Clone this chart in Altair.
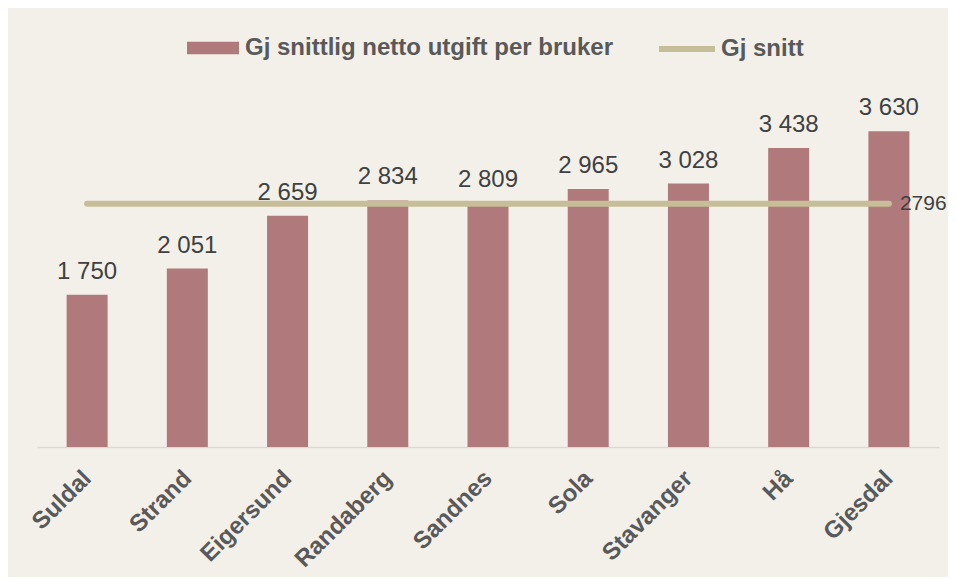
import altair as alt
import pandas as pd

kommuner = ["Suldal", "Strand", "Eigersund", "Randaberg", "Sandnes", "Sola", "Stavanger", "Hå", "Gjesdal"]
utgift = [1750, 2051, 2659, 2834, 2809, 2965, 3028, 3438, 3630]
snitt = 2796
serie_bar = "Gj snittlig netto utgift per bruker"
serie_line = "Gj snitt"

def fmt(v):
    return f"{v:,}".replace(",", " ")

df = pd.DataFrame({
    "kommune": kommuner,
    "utgift": utgift,
    "label": [fmt(v) for v in utgift],
    "snitt": [snitt] * len(kommuner),
    "serie_bar": [serie_bar] * len(kommuner),
    "serie_line": [serie_line] * len(kommuner),
})
df_last = df.tail(1).copy()
df_last["snitt_label"] = str(snitt)

FONT = "Liberation Sans"
BAR = "#B07A7D"
LINE = "#C6BD99"
FS = 24

x = alt.X("kommune:N", sort=kommuner, title=None,
          scale=alt.Scale(paddingInner=0.591, paddingOuter=0.2955),
          axis=alt.Axis(labelAngle=-45, labelAlign="right", labelBaseline="top",
                        labelFont=FONT, labelFontSize=FS, labelFontWeight="bold",
                        labelColor="#595959", ticks=False, domainColor="#D9D9D9",
                        domainWidth=1.5, labelPadding=19, labelOffset=-8, grid=False))
yscale = alt.Scale(domain=[0, 4000])

bars = alt.Chart(df).mark_bar(color=BAR).encode(
    x=x,
    y=alt.Y("utgift:Q", scale=yscale, axis=None),
    fill=alt.Fill("serie_bar:N", scale=alt.Scale(range=[BAR]),
                  legend=alt.Legend(title=None, orient="none", legendX=150, legendY=-77,
                                    symbolType="M-1,-0.242L1,-0.242L1,0.242L-1,0.242Z",
                                    symbolSize=2704, symbolStrokeWidth=0,
                                    labelFont=FONT, labelFontSize=FS, labelFontWeight="bold",
                                    labelColor="#595959", padding=0, symbolOffset=0,
                                    labelOffset=6, labelLimit=0)),
)

labels = alt.Chart(df).mark_text(font=FONT, fontSize=FS, color="#404040",
                                 baseline="alphabetic", dy=-16).encode(
    x=alt.X("kommune:N", sort=kommuner),
    y=alt.Y("utgift:Q", scale=yscale),
    text="label:N",
)

line = alt.Chart(df).mark_line(strokeWidth=6, strokeCap="round").encode(
    x=alt.X("kommune:N", sort=kommuner),
    y=alt.Y("snitt:Q", scale=yscale),
    stroke=alt.Stroke("serie_line:N", scale=alt.Scale(range=[LINE]),
                      legend=alt.Legend(title=None, orient="none", legendX=619, legendY=-81,
                                        symbolType="stroke", symbolSize=3136,
                                        symbolStrokeWidth=6,
                                        labelFont=FONT, labelFontSize=FS, labelFontWeight="bold",
                                        labelColor="#595959", padding=0, symbolOffset=0,
                                        labelOffset=3, labelLimit=0)),
)

avg_label = alt.Chart(df_last).mark_text(font=FONT, fontSize=21, color="#404040",
                                         align="left", baseline="middle", dx=11).encode(
    x=alt.X("kommune:N", sort=kommuner),
    y=alt.Y("snitt:Q", scale=yscale),
    text="snitt_label:N",
)

chart = alt.layer(bars, line, labels, avg_label).resolve_scale(
    fill="independent", stroke="independent"
).properties(
    width=902, height=348,
    autosize=alt.AutoSizeParams(type="none"),
    padding={"left": 29, "top": 91, "right": 9, "bottom": 130},
    background="#F3F0EA",
).configure_view(stroke=None)

chart.save("out.html", embed_options={"renderer": "svg", "actions": False})
